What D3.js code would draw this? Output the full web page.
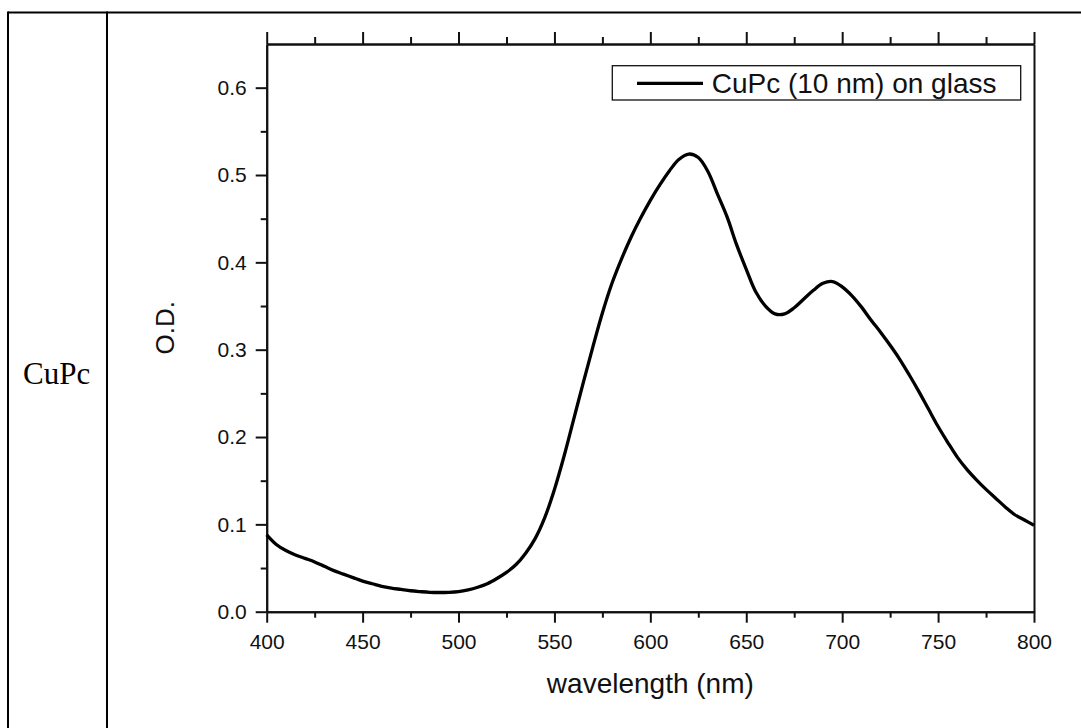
<!DOCTYPE html>
<html><head><meta charset="utf-8">
<script src="https://cdn.jsdelivr.net/npm/d3@7"></script>
<style>html,body{margin:0;padding:0;background:#fff;}svg{display:block;}</style>
</head><body>
<script>
const wavelength = [400,405,410,415,420,425,430,435,440,445,450,455,460,465,470,475,480,485,490,495,500,505,510,515,520,525,530,535,540,545,550,555,560,565,570,575,580,585,590,595,600,605,610,615,620,625,630,635,640,645,650,655,660,665,670,675,680,685,690,695,700,705,710,715,720,725,730,735,740,745,750,755,760,765,770,775,780,785,790,795,800];
const od = [0.088,0.077,0.070,0.065,0.061,0.057,0.052,0.047,0.043,0.039,0.035,0.032,0.029,0.027,0.0255,0.024,0.023,0.0222,0.022,0.0222,0.023,0.025,0.028,0.032,0.038,0.045,0.054,0.067,0.084,0.108,0.14,0.178,0.22,0.262,0.303,0.342,0.376,0.404,0.429,0.451,0.471,0.489,0.505,0.518,0.524,0.52,0.504,0.478,0.452,0.420,0.392,0.366,0.350,0.341,0.341,0.348,0.358,0.368,0.376,0.378,0.372,0.362,0.349,0.334,0.320,0.305,0.289,0.271,0.252,0.232,0.212,0.194,0.177,0.163,0.151,0.140,0.130,0.120,0.111,0.105,0.099];
const xMajorTicks = [400,450,500,550,600,650,700,750,800];
const xMinorTicks = [425,475,525,575,625,675,725,775];
const yMajorTicks = [0.0,0.1,0.2,0.3,0.4,0.5,0.6];
const yMinorTicks = [0.05,0.15,0.25,0.35,0.45,0.55];
const seriesName = "CuPc (10 nm) on glass";
const rowLabel = "CuPc";
const xTitle = "wavelength (nm)";
const yTitle = "O.D.";

const W = 1081, H = 728;
const svg = d3.select("body").append("svg").attr("width", W).attr("height", H);
svg.append("rect").attr("width", W).attr("height", H).attr("fill", "#fff");

// table borders
svg.append("line").attr("x1", 8).attr("x2", W).attr("y1", 12.5).attr("y2", 12.5).attr("stroke", "#000").attr("stroke-width", 2);
svg.append("line").attr("x1", 8).attr("x2", 8).attr("y1", 11.5).attr("y2", H).attr("stroke", "#000").attr("stroke-width", 2);
svg.append("line").attr("x1", 107).attr("x2", 107).attr("y1", 11.5).attr("y2", H).attr("stroke", "#000").attr("stroke-width", 2);
svg.append("text").attr("x", 23).attr("y", 384).attr("font-family", "'Liberation Serif','Times New Roman',serif").attr("font-size", 31).attr("fill", "#000").text(rowLabel);

const L = 266.7, R = 1034, T = 44, B = 611.7;
const x = d3.scaleLinear().domain([400, 800]).range([L, R]);
const y = d3.scaleLinear().domain([0, 0.65]).range([B, T]);
const font = "'Liberation Sans', Arial, sans-serif";
const axisColor = "#111";

function styleAxis(g) {
  g.selectAll("path.domain").attr("stroke", axisColor).attr("stroke-width", 2);
  g.selectAll(".tick line").attr("stroke", axisColor).attr("stroke-width", 2);
  g.selectAll(".tick text").attr("font-family", font).attr("font-size", 21).attr("fill", axisColor);
}

// minor ticks
svg.append("g").attr("transform", `translate(0,${B})`)
  .call(d3.axisBottom(x).tickValues(xMinorTicks).tickSize(6).tickSizeOuter(0).tickFormat(""))
  .call(styleAxis);
svg.append("g").attr("transform", `translate(0,${T})`)
  .call(d3.axisTop(x).tickValues(xMinorTicks).tickSize(7).tickSizeOuter(0).tickFormat(""))
  .call(styleAxis);
svg.append("g").attr("transform", `translate(${L},0)`)
  .call(d3.axisLeft(y).tickValues(yMinorTicks).tickSize(6).tickSizeOuter(0).tickFormat(""))
  .call(styleAxis);

// major
svg.append("g").attr("transform", `translate(0,${B})`)
  .call(d3.axisBottom(x).tickValues(xMajorTicks).tickSize(11).tickSizeOuter(0).tickPadding(11).tickFormat(d3.format("d")))
  .call(styleAxis);
svg.append("g").attr("transform", `translate(0,${T})`)
  .call(d3.axisTop(x).tickValues(xMajorTicks).tickSize(12).tickSizeOuter(0).tickFormat(""))
  .call(styleAxis);
svg.append("g").attr("transform", `translate(${L},0)`)
  .call(d3.axisLeft(y).tickValues(yMajorTicks).tickSize(11).tickSizeOuter(0).tickPadding(9).tickFormat(d3.format(".1f")))
  .call(styleAxis);
svg.append("g").attr("transform", `translate(${R},0)`)
  .call(d3.axisRight(y).tickValues([]).tickSizeOuter(0))
  .call(styleAxis);

// curve
const line = d3.line().x((d, i) => x(wavelength[i])).y(d => y(d)).curve(d3.curveCatmullRom.alpha(0.5));
svg.append("path").datum(od).attr("d", line).attr("fill", "none").attr("stroke", "#000").attr("stroke-width", 3.3).attr("stroke-linejoin", "round");

// titles
svg.append("text").attr("x", (L + R) / 2).attr("y", 693).attr("text-anchor", "middle")
  .attr("font-family", font).attr("font-size", 28).attr("fill", axisColor).text(xTitle);
svg.append("text").attr("transform", `translate(174,${(T + B) / 2}) rotate(-90)`).attr("text-anchor", "middle")
  .attr("font-family", font).attr("font-size", 26).attr("fill", axisColor).text(yTitle);

// legend
svg.append("rect").attr("x", 612.3).attr("y", 65.7).attr("width", 408.4).attr("height", 34.3)
  .attr("fill", "#fff").attr("stroke", axisColor).attr("stroke-width", 1.3);
svg.append("line").attr("x1", 637).attr("x2", 703).attr("y1", 83.3).attr("y2", 83.3).attr("stroke", "#000").attr("stroke-width", 3.3);
svg.append("text").attr("x", 711.7).attr("y", 93.3).attr("font-family", font).attr("font-size", 28).attr("fill", axisColor).text(seriesName);
</script>
</body></html>
